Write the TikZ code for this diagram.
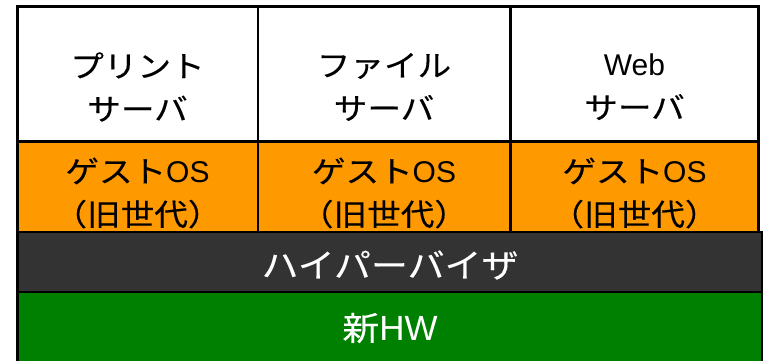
\documentclass[tikz,border=0pt]{standalone}
\usepackage{fontspec}
\setmainfont{Noto Sans CJK JP}[FakeStretch=1.12,FakeBold=0.3]
\newfontfamily\lat{Liberation Sans}
\newcommand{\latw}[2]{{\lat\fontsize{#1}{44}\selectfont #2}}
\definecolor{osorange}{HTML}{FF9900}
\definecolor{hvdark}{HTML}{333333}
\definecolor{hwgreen}{HTML}{008000}
\begin{document}
\begin{tikzpicture}[x=1pt,y=-1pt,
  cell/.style={draw=black,line width=2.5pt},
  lbl/.style={align=center,inner sep=0pt,font=\fontsize{30}{43}\selectfont},
  wlbl/.style={align=center,inner sep=0pt,text=white,font=\fontsize{33}{44}\selectfont}]
\useasboundingbox (0,0) rectangle (763,361);
% server cells
\path[cell,fill=white] (17.5,6.5) rectangle (258,141.5);
\path[cell,fill=white] (258,6.5) rectangle (510.5,141.5);
\path[cell,fill=white] (510.5,6.5) rectangle (758.5,141.5);
% guest OS cells
\path[cell,fill=osorange] (17.5,141.5) rectangle (258,232);
\path[cell,fill=osorange] (258,141.5) rectangle (510.5,232);
\path[cell,fill=osorange] (510.5,141.5) rectangle (758.5,232);
% hypervisor
\path[cell,fill=hvdark] (17.5,232) rectangle (762,292);
% hardware
\path[cell,fill=hwgreen] (17.5,292) rectangle (762,366);
% labels
\node[lbl] (print) at (137.5,87) {プリント\\サーバ};
\node[lbl] (file) at (384,87) {ファイル\\サーバ};
\node[lbl] (web) at (634.5,87) {\latw{30}{Web}\\サーバ};
\node[lbl] (os1) at (137.5,193) {ゲスト\latw{30}{OS}\\（旧世代）};
\node[lbl] (os2) at (384,193) {ゲスト\latw{30}{OS}\\（旧世代）};
\node[lbl] (os3) at (634.5,193) {ゲスト\latw{30}{OS}\\（旧世代）};
\node[wlbl] (hv) at (390,265) {ハイパーバイザ};
\node[wlbl] (hw) at (390,328) {新\latw{35}{HW}};
\end{tikzpicture}
\end{document}
